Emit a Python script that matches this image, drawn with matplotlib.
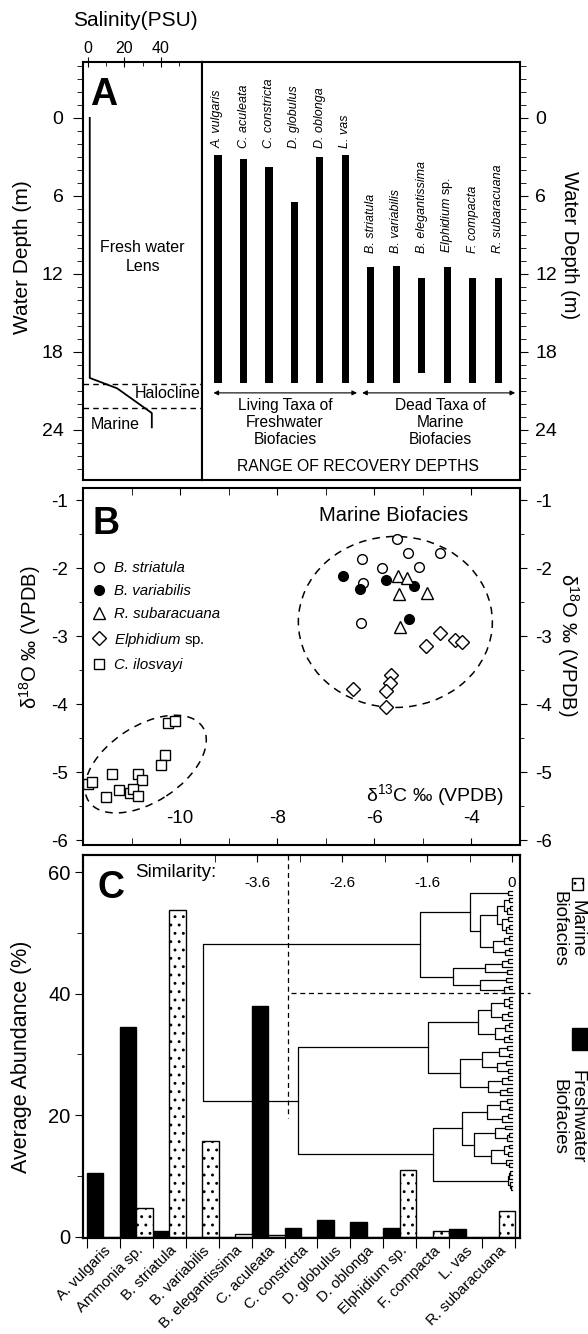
import numpy as np
import matplotlib.pyplot as plt
from matplotlib.patches import Ellipse, Rectangle
from matplotlib.transforms import ScaledTranslation

plt.rcParams['font.family'] = ['Liberation Sans', 'DejaVu Sans']
plt.rcParams['mathtext.fontset'] = 'custom'
plt.rcParams['mathtext.rm'] = 'Liberation Sans'
plt.rcParams['mathtext.it'] = 'Liberation Sans:italic'
plt.rcParams['axes.unicode_minus'] = False
plt.rcParams['hatch.linewidth'] = 0.9

# ---------------- Panel A data ----------------
salinity = [1, 1, 16, 35, 35]
salinity_depth = [0, 20.0, 20.8, 22.7, 23.8]
boundary_depths = [20.5, 22.3]

living_taxa = ['A. vulgaris', 'C. aculeata', 'C. constricta', 'D. globulus', 'D. oblonga', 'L. vas']
living_top = [2.85, 3.15, 3.8, 6.5, 3.0, 2.85]
living_bottom = [20.4, 20.4, 20.4, 20.4, 20.4, 20.4]
dead_taxa = ['B. striatula', 'B. variabilis', 'B. elegantissima', r'$\mathit{Elphidium}$ sp.',
             'F. compacta', 'R. subaracuana']
dead_top = [11.5, 11.4, 12.3, 11.5, 12.3, 12.3]
dead_bottom = [20.4, 20.4, 19.6, 20.4, 20.4, 20.4]

# ---------------- Panel B data ----------------
striatula_c = [-5.53, -5.31, -4.65, -6.25, -5.84, -5.09, -6.23, -6.27]
striatula_o = [-1.57, -1.77, -1.78, -1.86, -1.99, -1.98, -2.21, -2.81]
variabilis_c = [-6.65, -6.29, -5.77, -5.19, -5.29]
variabilis_o = [-2.12, -2.30, -2.17, -2.26, -2.75]
subaracuana_c = [-5.51, -5.33, -5.50, -4.92, -5.48]
subaracuana_o = [-2.11, -2.14, -2.38, -2.37, -2.87]
elphidium_c = [-4.64, -4.93, -4.33, -4.19, -5.65, -5.67, -5.75, -6.43, -5.75]
elphidium_o = [-2.95, -3.15, -3.06, -3.09, -3.57, -3.69, -3.80, -3.77, -4.04]
ilosvayi_c = [-10.24, -10.10, -10.31, -10.40, -11.40, -10.86, -10.78, -11.90, -11.82,
              -11.26, -11.03, -10.98, -10.86, -11.53]
ilosvayi_o = [-4.27, -4.25, -4.75, -4.89, -5.03, -5.02, -5.12, -5.17, -5.15,
              -5.26, -5.30, -5.25, -5.35, -5.36]

# ---------------- Panel C data ----------------
species = ['A. vulgaris', 'Ammonia sp.', 'B. striatula', 'B. variabilis', 'B. elegantissima',
           'C. aculeata', 'C. constricta', 'D. globulus', 'D. oblonga', 'Elphidium sp.',
           'F. compacta', 'L. vas', 'R. subaracuana']
freshwater_abund = [10.5, 34.5, 1.0, 0, 0, 38.0, 1.4, 2.8, 2.35, 1.4, 0, 1.2, 0]
marine_abund = [0, 4.8, 53.8, 15.8, 0.5, 0.3, 0, 0, 0, 11.0, 0.9, 0, 4.2]

# dendrogram: [merge level, upper child, lower child], 0 = sample
marine_tree = [-1.08,
    [-0.49,
        [-0.05, 0, 0],
        [-0.38,
            [-0.18, [-0.10, [-0.04, 0, 0], [-0.06, [-0.02, 0, 0], 0]],
                    [-0.12, [-0.05, 0, 0], [-0.07, [-0.03, 0, 0], 0]]],
            [-0.22, [-0.10, [-0.04, 0, 0], 0], [-0.08, [-0.03, 0, 0], 0]]]],
    [-0.69,
        [-0.32, [-0.12, [-0.05, 0, 0], 0], [-0.06, 0, 0]],
        [-0.38, [-0.07, 0, 0], [-0.10, [-0.03, 0, 0], 0]]]]
fresh_tree = [-2.52,
    [-0.99,
        [-0.40, [-0.25, [-0.10, [-0.04, 0, 0], [-0.03, 0, 0]], [-0.12, [-0.05, 0, 0], 0]],
                [-0.20, [-0.08, [-0.03, 0, 0], 0], [-0.10, [-0.04, 0, 0], 0]]],
        [-0.61, [-0.35, [-0.15, [-0.06, 0, 0], [-0.04, 0, 0]], [-0.18, [-0.07, 0, 0], [-0.05, 0, 0]]],
                [-0.28, [-0.12, [-0.05, 0, 0], 0], [-0.14, [-0.06, 0, 0], 0]]]],
    [-0.93,
        [-0.59, [-0.30, [-0.14, [-0.06, 0, 0], [-0.04, 0, 0]], [-0.12, [-0.05, 0, 0], 0]],
                [-0.45, [-0.20, [-0.08, 0, 0], [-0.06, [-0.03, 0, 0], 0]],
                        [-0.25, [-0.10, [-0.04, 0, 0], [-0.05, 0, 0]], [-0.07, 0, [-0.03, 0, 0]]]]],
        [-0.05, [-0.03, [-0.02, 0, 0], 0], [-0.02, 0, [-0.01, 0, 0]]]]]
dendro_root = [-3.64, marine_tree, fresh_tree]
dendro_ticks = [-3, -2, -1, 0]
dendro_labels = ['-3.6', '-2.6', '-1.6', '0']

W, H = 588, 1334


def box(x0, y0, x1, y1):
    return [x0 / W, 1 - y1 / H, (x1 - x0) / W, (y1 - y0) / H]


def n_leaves(node):
    if node == 0:
        return 1
    return n_leaves(node[1]) + n_leaves(node[2])


def draw_tree(ax, node, ys, idx):
    if node == 0:
        y = ys[idx[0]]
        idx[0] += 1
        return 0.0, y
    h1, y1 = draw_tree(ax, node[1], ys, idx)
    h2, y2 = draw_tree(ax, node[2], ys, idx)
    ax.plot([h1, node[0], node[0], h2], [y1, y1, y2, y2], color='k', lw=0.9)
    return node[0], (y1 + y2) / 2


fig = plt.figure(figsize=(W / 100, H / 100), dpi=100)

# ================= Panel A =================
axA1 = fig.add_axes(box(83, 62, 202, 480))
axA1.plot(salinity, salinity_depth, color='k', lw=1.3)
for d in boundary_depths:
    axA1.axhline(d, color='k', lw=1.0, ls=(0, (4, 3)))
axA1.set_xlim(-2.7, 62.5)
axA1.set_ylim(27.85, -4.3)
axA1.xaxis.tick_top()
axA1.set_xticks([0, 20, 40])
axA1.set_xticks([10, 30, 50], minor=True)
axA1.tick_params(axis='x', which='major', direction='inout', length=7, labelsize=11.5, pad=1)
axA1.tick_params(axis='x', which='minor', direction='in', length=3)
axA1.set_yticks([0, 6, 12, 18, 24])
axA1.set_yticks(np.arange(-4, 28, 1), minor=True)
axA1.tick_params(axis='y', which='major', direction='out', length=7, labelsize=14, pad=7)
axA1.tick_params(axis='y', which='minor', direction='out', length=4)
axA1.text(30, 10.7, 'Fresh water\nLens', ha='center', va='center', fontsize=11.5,
          linespacing=1.3)
axA1.text(43.5, 21.2, 'Halocline', ha='center', va='center', fontsize=11.5)
axA1.text(15, 23.6, 'Marine', ha='center', va='center', fontsize=11.5)
axA1.text(0.17, 0.92, 'A', transform=axA1.transAxes, fontsize=27, fontweight='bold',
          ha='center', va='center')

axA2 = fig.add_axes(box(202, 62, 520, 480))
xl = np.arange(len(living_taxa))
xd = np.arange(len(dead_taxa)) + len(living_taxa)
axA2.bar(xl, np.subtract(living_bottom, living_top), bottom=living_top, width=0.28, color='k')
axA2.bar(xd, np.subtract(dead_bottom, dead_top), bottom=dead_top, width=0.28, color='k')
for x, name in zip(xl, living_taxa):
    axA2.text(x, 2.3, name, rotation=90, ha='center', va='bottom', fontsize=9, style='italic')
for x, name in zip(xd, dead_taxa):
    st = 'normal' if 'sp.' in name else 'italic'
    axA2.text(x, 10.4, name, rotation=90, ha='center', va='bottom', fontsize=9, style=st)
axA2.annotate('', xy=(-0.18, 21.15), xytext=(5.46, 21.15),
              arrowprops=dict(arrowstyle='<|-|>', lw=0.8, color='k', mutation_scale=7,
                              shrinkA=0, shrinkB=0))
axA2.annotate('', xy=(5.66, 21.15), xytext=(11.67, 21.15),
              arrowprops=dict(arrowstyle='<|-|>', lw=0.8, color='k', mutation_scale=7,
                              shrinkA=0, shrinkB=0))
axA2.text(2.63, 21.55, 'Living Taxa of\nFreshwater\nBiofacies', ha='center', va='top',
          fontsize=11.2, linespacing=1.15)
axA2.text(8.72, 21.55, 'Dead Taxa of\nMarine\nBiofacies', ha='center', va='top',
          fontsize=11.2, linespacing=1.15)
axA2.text(5.5, 26.8, 'RANGE OF RECOVERY DEPTHS', ha='center', va='center', fontsize=11.3)
axA2.set_xlim(-0.63, 11.86)
axA2.set_ylim(27.85, -4.3)
axA2.set_xticks([])
axA2.yaxis.tick_right()
axA2.set_yticks([0, 6, 12, 18, 24])
axA2.set_yticks(np.arange(-4, 28, 1), minor=True)
axA2.tick_params(axis='y', which='major', direction='out', length=6, labelsize=14, pad=5)
axA2.tick_params(axis='y', which='minor', direction='out', length=4)
axA2.tick_params(axis='y', which='both', left=False)

for ax in (axA1, axA2):
    for s in ax.spines.values():
        s.set_linewidth(1.5)

fig.text(135 / W, 1 - 21 / H, 'Salinity(PSU)', ha='center', va='center', fontsize=15)
fig.text(23 / W, 1 - 257 / H, 'Water Depth (m)', rotation=90, ha='center', va='center',
         fontsize=15)
fig.text(569 / W, 1 - 245 / H, 'Water Depth (m)', rotation=-90, ha='center', va='center',
         fontsize=14.5)

# ================= Panel B =================
axB = fig.add_axes(box(83, 488, 520, 845))
mk = dict(ls='none', mec='k', mew=1.0, color='k')
axB.plot(striatula_c, striatula_o, marker='o', ms=7, mfc='white', label='B. striatula', **mk)
axB.plot(variabilis_c, variabilis_o, marker='o', ms=7, mfc='black', label='B. variabilis', **mk)
axB.plot(subaracuana_c, subaracuana_o, marker='^', ms=8, mfc='white', label='R. subaracuana', **mk)
axB.plot(elphidium_c, elphidium_o, marker='D', ms=7, mfc='white',
         label=r'$\mathit{Elphidium}$ sp.', **mk)
axB.plot(ilosvayi_c, ilosvayi_o, marker='s', ms=7.5, mfc='white', label='C. ilosvayi', **mk)
leg = axB.legend(loc='upper left', bbox_to_anchor=(0.0, 0.815), frameon=False, fontsize=10.8,
                 handletextpad=0.45, labelspacing=0.62, borderpad=0.2, handlelength=1.2,
                 borderaxespad=0.25)
for t in leg.get_texts():
    if 'sp.' not in t.get_text():
        t.set_style('italic')

marine_ell = Ellipse((0, 0), 1.94, 1.71, fill=False, ls=(0, (5, 4)), lw=1.1, color='k',
                     transform=fig.dpi_scale_trans + ScaledTranslation(-5.567, -2.79, axB.transData))
fresh_ell = Ellipse((0, 0), 1.36, 0.76, angle=33, fill=False, ls=(0, (5, 4)), lw=1.1, color='k',
                    transform=fig.dpi_scale_trans + ScaledTranslation(-10.71, -4.88, axB.transData))
axB.add_patch(marine_ell)
axB.add_patch(fresh_ell)

axB.set_xlim(-12, -3)
axB.set_ylim(-6.07, -0.82)
axB.set_xticks([-10, -8, -6, -4])
axB.set_xticks([-11, -9, -7, -5], minor=True)
axB.tick_params(axis='x', which='both', direction='in', top=True, length=5, labelsize=13.5, pad=-25)
axB.set_yticks([-6, -5, -4, -3, -2, -1])
axB.set_yticks([-5.5, -4.5, -3.5, -2.5, -1.5], minor=True)
axB.tick_params(axis='y', which='both', direction='out', right=True, labelright=True,
                labelsize=13.5, pad=6)
axB.tick_params(axis='y', which='major', length=5)
axB.tick_params(axis='y', which='minor', length=3)
for s in axB.spines.values():
    s.set_linewidth(1.5)
axB.text(0.053, 0.9, 'B', transform=axB.transAxes, fontsize=27, fontweight='bold',
         ha='center', va='center')
axB.text(-5.6, -1.23, 'Marine Biofacies', ha='center', va='center', fontsize=14.5)
axB.text(-4.75, -5.34, r'$\mathregular{\delta^{13}}$C ‰ (VPDB)', ha='center', va='center',
         fontsize=14)
fig.text(30 / W, 1 - 637 / H, r'$\mathregular{\delta^{18}}$O ‰ (VPDB)', rotation=90,
         ha='center', va='center', fontsize=14.5)
fig.text(568 / W, 1 - 645 / H, r'$\mathregular{\delta^{18}}$O ‰ (VPDB)', rotation=-90,
         ha='center', va='center', fontsize=14.5)

# ================= Panel C =================
axC = fig.add_axes(box(83, 855, 520, 1238))
xc = np.arange(len(species))
axC.bar(xc + 0.25, freshwater_abund, width=0.5, color='k', edgecolor='k', lw=1)
axC.bar(xc + 0.75, marine_abund, width=0.5, color='white', edgecolor='k', lw=1, hatch='..')
axC.set_xlim(-0.12, 13.15)
axC.set_ylim(-0.2, 62.8)
axC.set_xticks(np.arange(len(species) + 1))
axC.set_xticklabels([])
axC.set_xticks(xc + 0.5, minor=True)
axC.set_xticklabels(species, minor=True, rotation=45, ha='right', va='top',
                    rotation_mode='anchor', fontsize=10.8)
axC.tick_params(axis='x', which='major', direction='out', length=7)
axC.tick_params(axis='x', which='minor', length=0, pad=4)
axC.set_yticks([0, 20, 40, 60])
axC.set_yticks([10, 30, 50], minor=True)
axC.tick_params(axis='y', which='major', direction='out', length=6, labelsize=14.5, pad=3)
axC.tick_params(axis='y', which='minor', direction='out', length=4)
for s in axC.spines.values():
    s.set_linewidth(1.5)

axD = axC.twiny()
ys = np.linspace(56.9, 7.7, n_leaves(dendro_root))
draw_tree(axD, dendro_root, ys, [0])
axD.plot([-2.635, -2.635], [62.8, 19.6], color='k', lw=0.9, ls=(0, (4, 3)))
axD.plot([-2.6, 0.21], [40.1, 40.1], color='k', lw=0.9, ls=(0, (4, 3)), clip_on=False)
axD.set_xlim(-5.05, 0.094)
axD.set_xticks(dendro_ticks)
axD.set_xticklabels(dendro_labels)
axD.set_xticks([-3.5, -2.5, -1.5, -0.5], minor=True)
axD.tick_params(axis='x', which='both', direction='in', length=5, labelsize=11, pad=-25)
for s in axD.spines.values():
    s.set_linewidth(1.5)
axC.text(0.065, 0.915, 'C', transform=axC.transAxes, fontsize=27, fontweight='bold',
         ha='center', va='center')
axC.text(0.12, 0.955, 'Similarity:', transform=axC.transAxes, fontsize=13.5,
         ha='left', va='center')
fig.text(22 / W, 1 - 1057 / H, 'Average Abundance (%)', rotation=90, ha='center',
         va='center', fontsize=15.5)

# legend for panel C, outside the axes
fig.add_artist(Rectangle((572 / W, 1 - 890 / H), 11 / W, 12 / H, transform=fig.transFigure,
                         facecolor='white', edgecolor='k', hatch='..', lw=1))
fig.add_artist(Rectangle((572 / W, 1 - 1050 / H), 18 / W, 22 / H, transform=fig.transFigure,
                         facecolor='black', edgecolor='k', lw=1))
fig.text(568 / W, 1 - 929 / H, 'Marine\nBiofacies', rotation=-90, ha='center', va='center',
         multialignment='center', fontsize=13.5, linespacing=1.0)
fig.text(568 / W, 1 - 1117 / H, 'Freshwater\nBiofacies', rotation=-90, ha='center',
         va='center', multialignment='center', fontsize=13.5, linespacing=1.0)

fig.savefig('out.png', dpi=100)
